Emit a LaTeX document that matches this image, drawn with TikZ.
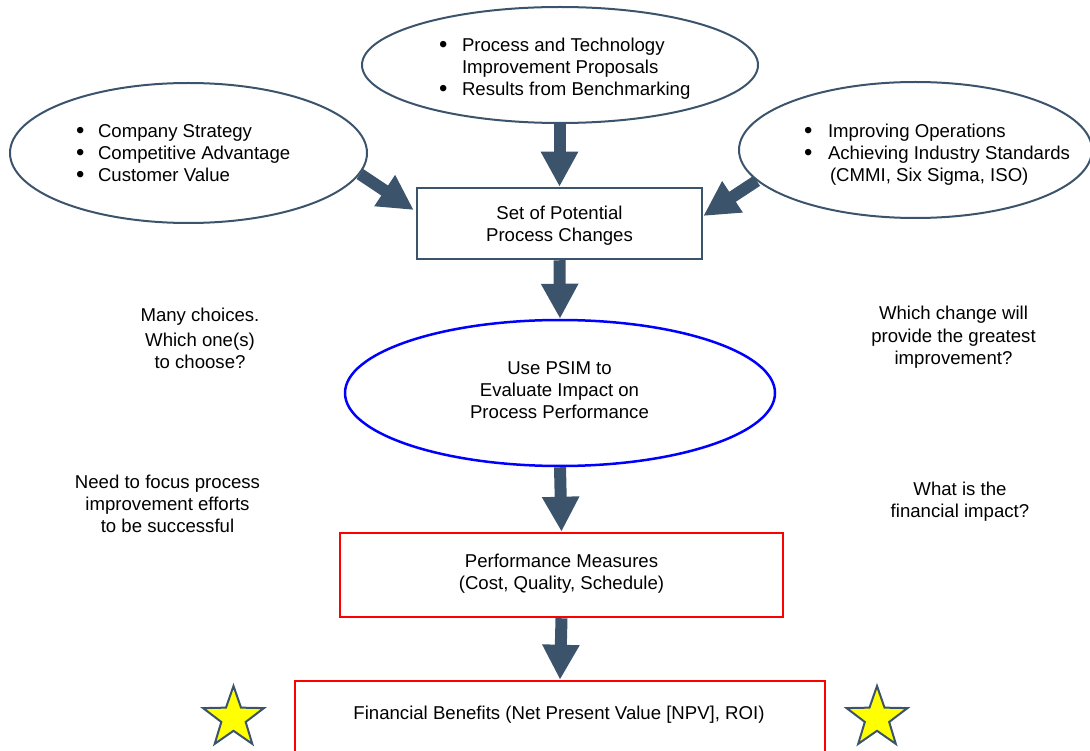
\documentclass[tikz,border=0pt]{standalone}
\usepackage{graphicx}
\usepackage{fontspec}
\setmainfont{Liberation Sans}
\usetikzlibrary{shapes.geometric,arrows.meta,calc}

\definecolor{slate}{RGB}{59,84,108}
\definecolor{pureblue}{RGB}{0,0,255}
\definecolor{purered}{RGB}{255,0,0}
\definecolor{staryellow}{RGB}{255,255,0}

% a centred block of lines whose baseline is that of its first line
\newcommand\linesblock[1]{\begin{tabular}[t]{@{}c@{}}#1\end{tabular}}
% a bullet list item: bullet in a box of the given width, then the text
\newcommand\bulletbox[1]{\makebox[#1][l]{\raisebox{-1pt}{\scalebox{1.28}{\textbullet}}}}

\tikzset{
  oval/.style={ellipse, draw=slate, line width=2pt, inner sep=0pt},
  psimoval/.style={ellipse, draw=pureblue, line width=2.5pt, inner sep=0pt},
  slatebox/.style={rectangle, draw=slate, line width=2.5pt, inner sep=0pt},
  redbox/.style={rectangle, draw=purered, line width=2.5pt, inner sep=0pt},
  txt/.style={inner sep=0pt, outer sep=0pt, anchor=base, text=black},
  listtxt/.style={inner sep=0pt, outer sep=0pt, anchor=base west, text=black},
  fat/.style={draw=slate, line width=12pt, -{Triangle[width=35pt,length=35pt]}},
  goldstar/.style={star, star points=5, star point ratio=2.5, minimum size=64pt,
    inner sep=0pt, fill=staryellow, draw=slate, line width=2pt},
}

\begin{document}
\begin{tikzpicture}[x=1pt,y=-1pt,font=\fontsize{18.6}{22}\selectfont]
\useasboundingbox (0,0) rectangle (1090,751);

% input ovals
\node[oval, minimum width=396pt, minimum height=116pt] (top) at (560,65) {};
\node[oval, minimum width=357pt, minimum height=140pt] (left) at (188.5,153) {};
\node[oval, minimum width=353pt, minimum height=136pt] (right) at (915.5,150) {};

% central chain
\node[slatebox, minimum width=285pt, minimum height=71pt] (changes) at (559.5,223.5) {};
\node[psimoval, minimum width=430pt, minimum height=146pt] (psim) at (560,393) {};
\node[redbox, minimum width=443pt, minimum height=84pt] (perf) at (561.5,575) {};
\node[redbox, minimum width=530pt, minimum height=71pt] (fin) at (560,716.5) {};

% stars beside the last box
\node[goldstar] (starL) at (233.5,718) {};
\node[goldstar] (starR) at (877,718) {};

% oval texts
\node[listtxt] (topText) at (439,52) {\begin{tabular}[t]{@{}l@{}}
  \bulletbox{23pt}Process and Technology\\
  \hspace{23pt}Improvement Proposals\\
  \bulletbox{23pt}Results from Benchmarking
\end{tabular}};
\node[listtxt] (leftText) at (76,138) {\begin{tabular}[t]{@{}l@{}}
  \bulletbox{22pt}Company Strategy\\
  \bulletbox{22pt}Competitive Advantage\\
  \bulletbox{22pt}Customer Value
\end{tabular}};
\node[listtxt] (rightText) at (804,138) {\begin{tabular}[t]{@{}l@{}}
  \bulletbox{24pt}Improving Operations\\
  \bulletbox{24pt}Achieving Industry Standards\\
  \hspace{26pt}(CMMI, Six Sigma, ISO)
\end{tabular}};

% texts of the central chain
\node[txt] (changesText) at (559.5,220) {\linesblock{Set of Potential\\Process Changes}};
\node[txt] (psimText) at (559.5,374) {\linesblock{Use PSIM to\\Evaluate Impact on\\Process Performance}};
\node[txt] (perfText) at (561.5,567) {\linesblock{Performance Measures\\(Cost, Quality, Schedule)}};
\node[txt] (finText) at (559,719) {Financial Benefits (Net Present Value [NPV], ROI)};

% side remarks
\node[txt] (choices) at (200,322) {\linesblock{Many choices.\\[3pt]Which one(s)\\to choose?}};
\node[txt] (greatest) at (953.5,320) {\linesblock{Which change will\\provide the greatest\\improvement?}};
\node[txt] (focus) at (167.5,488) {\linesblock{Need to focus process\\improvement efforts\\to be successful}};
\node[txt] (impact) at (960,495) {\linesblock{What is the\\financial impact?}};

% block arrows
\draw[fat] (changes.north |- top.south) -- (changes.north);
\draw[fat] (left.-7) -- ($(changes.west)+(-2,-13.5)$);
\draw[fat] (right.191) -- ($(changes.east)+(0,-7.5)$);
\draw[fat] (changes.south) -- (psim.north);
\draw[fat] (psim.south) -- (perf.north);
\draw[fat] (perf.south) -- (fin.north);
\end{tikzpicture}
\end{document}
